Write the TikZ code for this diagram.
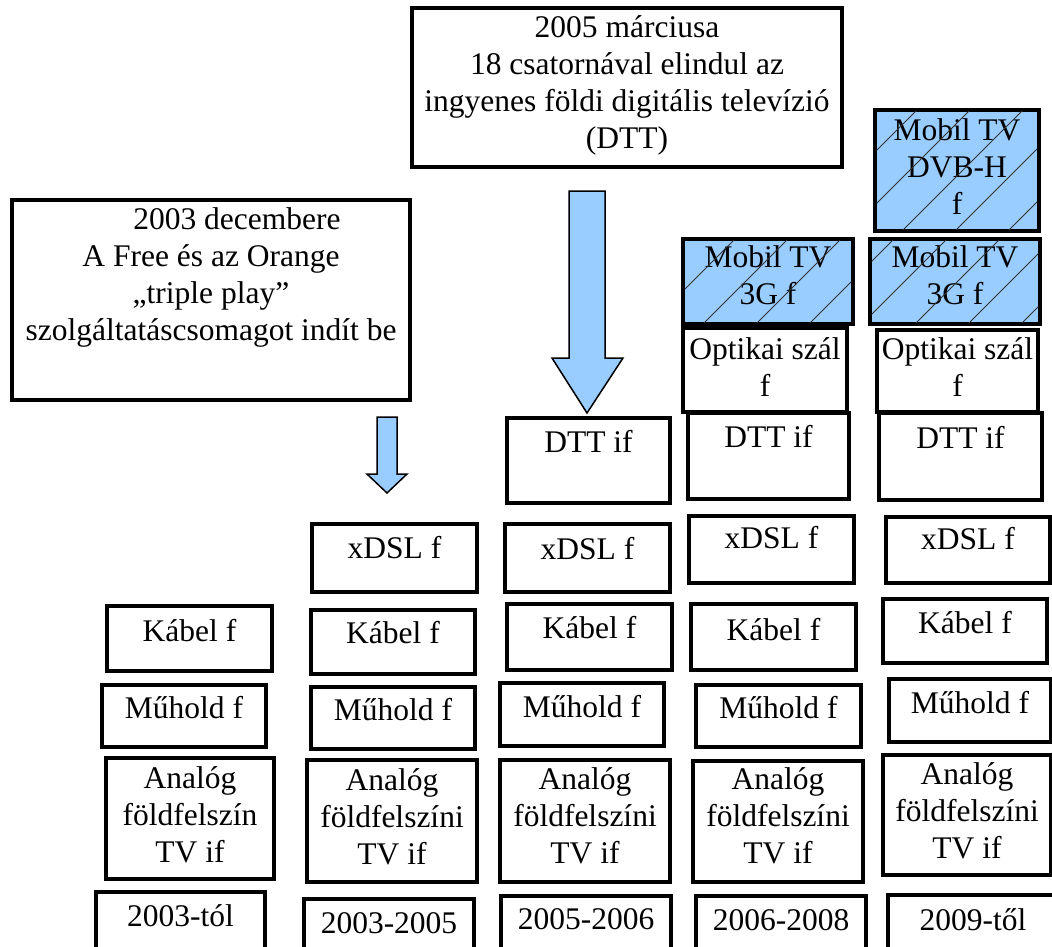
\documentclass[tikz,border=0pt]{standalone}
\usepackage{fontspec}
\setmainfont{Liberation Serif}
\usetikzlibrary{calc}
\definecolor{lblue}{HTML}{99CCFF}
\definecolor{hatchgray}{HTML}{333333}
\tikzset{
  bx/.style={draw=black, line width=3.4pt, fill=white, inner sep=0pt, outer sep=0pt},
  mobil/.style={fill=lblue},
  txt/.style={align=center, inner sep=0pt, outer sep=0pt,
    font=\fontsize{31.5}{37}\selectfont, execute at begin node=\strut},
  hatchln/.style={draw=hatchgray, line width=0.9pt},
  blockarrow/.style={draw=black, fill=lblue, line width=1.5pt, line join=miter}
}
% [style] name x1 y1 x2 y2 baseline text   (pixel coordinates, y downward)
\newcommand\mybox[8][]{%
  \node[bx,#1,minimum width={(#5-#3)*1pt},minimum height={(#6-#4)*1pt},anchor=north west] (#2) at (#3,#4) {};
  \node[txt,anchor=north] (#2t) at ({(#3+#5)/2},{#7-25.9}) {#8};}
\newcommand\hatchbox[1]{%
  \begin{scope}
    \clip ($(#1.south west)+(1.7,-1.7)$) rectangle ($(#1.north east)+(-1.7,1.7)$);
    \foreach \c in {921,974,...,1451} \draw[hatchln] (\c,0) -- ++(-1100,1100);
  \end{scope}}
\begin{document}
\begin{tikzpicture}[x=1pt,y=-1pt]
\clip (0,0) rectangle (1052,946);
\fill[white] (0,0) rectangle (1052,946);

% top event boxes
\mybox{b2005}{412}{8}{842}{167}{41}{2005 márciusa\\18 csatornával elindul az\\ingyenes földi digitális televízió\\(DTT)}
\mybox{b2003}{12}{200}{410}{400}{234}{\hspace*{52pt}2003 decembere\\A Free és az Orange\\„triple play”\\szolgáltatáscsomagot indít be}

% block arrows
\draw[blockarrow] (569,191) -- (605,191) -- (605,358) -- (623,358) -- (587,413) -- (552,358) -- (569,358) -- cycle;
\draw[blockarrow] (377,417) -- (397,417) -- (397,474) -- (407,474) -- (387,493) -- (367,474) -- (377,474) -- cycle;

% column 1: 2003-tól
\mybox{kab1}{107}{606}{272}{671}{641}{Kábel f}
\mybox{muh1}{102}{685}{266}{747}{718}{Műhold f}
\mybox{ana1}{106}{758}{274}{879}{792}{Analóg\\földfelszín\\TV if}
\mybox{yr1}{96}{892}{265}{965}{926}{2003-tól}

% column 2: 2003-2005
\mybox{xdsl2}{312}{524}{477}{592}{558}{xDSL f}
\mybox{kab2}{311}{610}{475}{674}{643}{Kábel f}
\mybox{muh2}{311}{687}{475}{749}{720}{Műhold f}
\mybox{ana2}{307}{760}{477}{882}{794}{Analóg\\földfelszíni\\TV if}
\mybox{yr2}{304}{899}{474}{965}{933}{2003-2005}

% column 3: 2005-2006
\mybox{dtt3}{507}{418}{670}{503}{452}{DTT if}
\mybox{xdsl3}{505}{524}{670}{592}{559}{xDSL f}
\mybox{kab3}{507}{604}{672}{670}{638}{Kábel f}
\mybox{muh3}{500}{683}{664}{746}{717}{Műhold f}
\mybox{ana3}{500}{760}{670}{882}{793}{Analóg\\földfelszíni\\TV if}
\mybox{yr3}{501}{896}{671}{965}{929}{2005-2006}

% column 4: 2006-2008
\mybox[mobil]{m3g4}{683}{239}{853}{324}{272}{Mobil TV\\3G f}
\hatchbox{m3g4}
\mybox{opt4}{683}{328}{847}{412}{363}{Optikai szál\\f}
\mybox{dtt4}{688}{413}{849}{499}{447}{DTT if}
\mybox{xdsl4}{689}{516}{854}{583}{548}{xDSL f}
\mybox{kab4}{691}{604}{856}{670}{640}{Kábel f}
\mybox{muh4}{696}{685}{861}{747}{718}{Műhold f}
\mybox{ana4}{693}{761}{863}{882}{793}{Analóg\\földfelszíni\\TV if}
\mybox{yr4}{696}{896}{866}{965}{930}{2006-2008}

% column 5: 2009-től
\mybox[mobil]{dvbh5}{875}{110}{1039}{231}{145}{Mobil TV\\DVB-H\\f}
\hatchbox{dvbh5}
\mybox[mobil]{m3g5}{870}{239}{1040}{324}{272}{Mobil TV\\3G f}
\hatchbox{m3g5}
\mybox{opt5}{877}{330}{1038}{412}{363}{Optikai szál\\f}
\mybox{dtt5}{879}{413}{1042}{500}{448}{DTT if}
\mybox{xdsl5}{886}{517}{1050}{583}{549}{xDSL f}
\mybox{kab5}{883}{599}{1047}{663}{633}{Kábel f}
\mybox{muh5}{889}{679}{1051}{742}{713}{Műhold f}
\mybox{ana5}{883}{755}{1051}{875}{788}{Analóg\\földfelszíni\\TV if}
\mybox{yr5}{888}{895}{1058}{965}{930}{2009-től}
\end{tikzpicture}
\end{document}
